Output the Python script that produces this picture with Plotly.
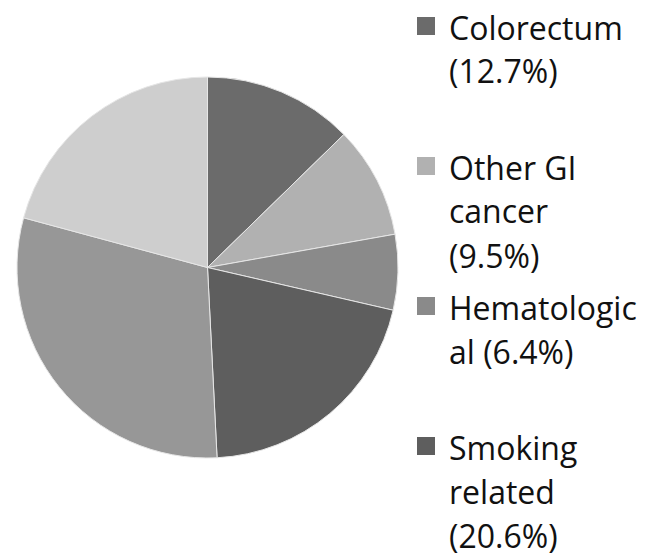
import plotly.graph_objects as go

# Slice data (clockwise from 12 o'clock)
labels = ["Colorectum", "Other GI cancer", "Hematological", "Smoking related",
          "Other (unlabelled)", "Remaining (unlabelled)"]
values = [12.7, 9.5, 6.4, 20.6, 30.0, 20.8]
colors = ["#6b6b6b", "#b1b1b1", "#8a8a8a", "#5e5e5e", "#979797", "#cecece"]

# Visible legend entries (the reference is cropped after the 4th)
legend_lines = [
    ["Colorectum", "(12.7%)"],
    ["Other GI", "cancer", "(9.5%)"],
    ["Hematologic", "al (6.4%)"],
    ["Smoking", "related", "(20.6%)"],
]

W, H = 659, 556

fig = go.Figure(go.Pie(
    labels=labels,
    values=values,
    sort=False,
    direction="clockwise",
    rotation=0,
    marker=dict(colors=colors, line=dict(color="#e6e6e6", width=1)),
    textinfo="none",
    hoverinfo="label+percent",
    showlegend=False,
    domain=dict(x=[17 / W, 398 / W], y=[(H - 458) / H, (H - 77) / H]),
))

# Legend layout constants (pixels)
item_top = 26
item_step = 140
line_step = 44
text_x = 447
sw_x0, sw_x1 = 417, 435
sw_half = 9

annotations = []
shapes = []
for i, lines in enumerate(legend_lines):
    yc = item_top + item_step * i
    shapes.append(dict(
        type="rect", xref="paper", yref="paper",
        x0=sw_x0 / W, x1=sw_x1 / W,
        y0=(H - (yc + sw_half)) / H, y1=(H - (yc - sw_half)) / H,
        fillcolor=colors[i], line=dict(width=0),
    ))
    for j, t in enumerate(lines):
        y = yc + 1 + line_step * j
        annotations.append(dict(
            text=t, xref="paper", yref="paper",
            x=text_x / W, y=(H - y) / H,
            xanchor="left", yanchor="middle", showarrow=False,
            font=dict(family="Open Sans", size=32, color="#111111"),
        ))

fig.update_layout(
    width=W, height=H,
    margin=dict(l=0, r=0, t=0, b=0),
    paper_bgcolor="white",
    plot_bgcolor="white",
    annotations=annotations,
    shapes=shapes,
)

fig.write_html("out.html")
